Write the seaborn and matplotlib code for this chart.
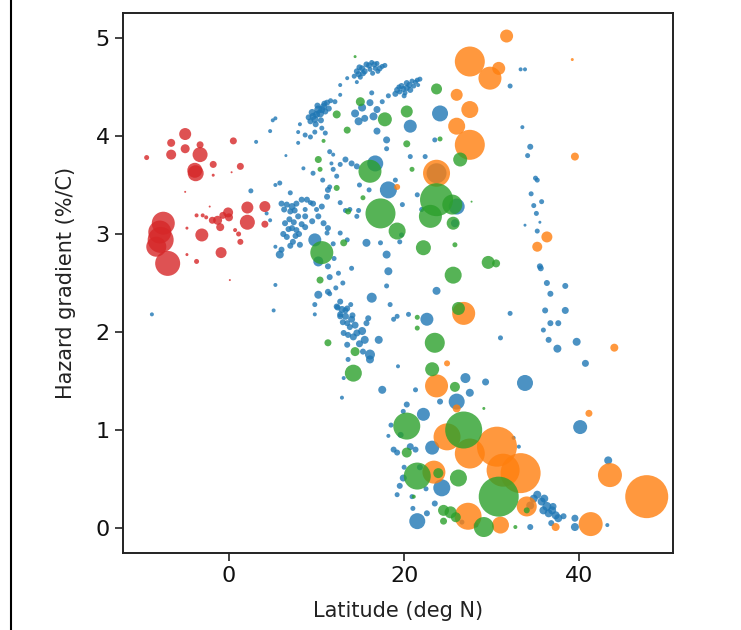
import numpy as np
import pandas as pd
import matplotlib
matplotlib.use("Agg")
import matplotlib.pyplot as plt
from matplotlib.lines import Line2D
import seaborn as sns

# ---------------- data (latitude, hazard gradient, bubble area) ----------------
blue_lat_a = [14.6, 15.2, 15.7, 16.3, 16.9, 17.5, 15.3, 16.1, 16.7, 14.8, 12.7, 13.5,
              19.2, 19.7, 20.3, 20.9, 21.5, 19.5, 20.3, 21.1, 21.6, 20.1, 16.3, 18.2, 17.5,
              9.6, 10.2, 10.8, 11.2, 10.4, 9.8, 11.0, 9.3, 8.7, 9.3, 9.8, 10.6, 11.0, 7.9,
              14.6, 12.7, 12.1,
              14.4, 15.2, 14.8, 16.1, 16.9, 16.5, 15.5, 20.7, 24.1, 18.0, 16.9, 18.0, 20.7,
              22.4, 23.5,
              13.3, 14.0, 14.6, 12.7, 11.9, 11.5, 11.9, 11.7, 16.7, 18.2, 23.7, 26.0, 25.8,
              9.6, 10.7, 11.5, 12.3, 9.3, 10.0, 8.7, 12.7, 13.8, 14.6, 15.7, 18.0, 18.2,
              17.3, 19.5, 19.7,
              5.0, 4.7, 3.1, 8.1, 7.9, 6.5, 2.5, 5.3, 5.3,
              6.0, 6.6, 7.2, 7.7, 8.3, 7.0, 7.5, 6.4, 7.2, 7.7, 6.6, 7.3, 8.1, 6.0, 5.8,
              5.3, 5.3, 5.1, 7.0, 5.8, 4.3, 4.7, 8.5, 8.7, 8.7,
              8.9, 9.6, 10.6, 11.2, 11.3, 10.2, 10.8, 9.5, 11.3, 9.8, 10.2, 10.2, 11.3,
              11.5, 11.3, 12.7, 13.3, 12.7, 13.5, 13.1, 13.3, 14.8, 12.7, 13.5, 11.2, 11.5,
              9.8, 9.8, 12.3, 12.9, 13.5, 12.7, 13.3, 14.0, 14.4, 14.6, 15.2, 15.5, 13.6,
              13.5, 15.7, 16.3, 17.1, 15.9, 16.1, 16.1, 13.6, 13.1, 12.9, 18.0, 18.4, 18.8,
              19.2, 17.5, 19.3, 20.5, 21.3, 22.6, 23.7, 27.0, 27.5, 26.0, 24.1, 22.2, 20.3,
              19.9, 18.2, 18.8, 19.2, 20.7, 21.3, 23.2, 19.9, 19.5, 24.3, 20.9, 19.2, 21.5,
              22.6,
              32.1, 31.0, 33.8, 29.3, 40.1, 40.7, 37.5, 36.5, 39.7, 36.7, 37.6, 36.1, 38.4,
              36.3, 38.4, 36.7, 35.9, 43.3,
              35.2, 35.7, 36.3, 36.9, 37.3, 37.6, 35.9, 36.5, 34.4, 39.5, 39.5, 34.4, 43.2,
              32.5, 33.1,
              33.3, 33.8, 32.1, 33.5, 34.4, 34.1, 35.0, 35.2, 34.5, 35.7, 34.8, 35.1, 33.8,
              35.5, 35.2, 35.5, 35.6,
              -8.8, 28.2, 26.6]
blue_grad_a = [4.66, 4.69, 4.73, 4.75, 4.74, 4.71, 4.64, 4.68, 4.69, 4.63, 4.52, 4.59,
               4.47, 4.51, 4.54, 4.56, 4.57, 4.45, 4.49, 4.51, 4.52, 4.44, 4.44, 4.41, 4.35,
               4.20, 4.27, 4.30, 4.34, 4.23, 4.17, 4.25, 4.15, 4.01, 3.99, 4.04, 4.08, 4.03, 3.93,
               4.55, 4.42, 4.35,
               4.23, 4.29, 4.15, 4.34, 4.27, 4.20, 4.18, 4.10, 4.23, 3.96, 4.05, 3.87, 3.79,
               3.79, 3.96,
               3.76, 3.72, 3.69, 3.71, 3.66, 3.84, 3.81, 3.72, 3.72, 3.45, 3.62, 3.28, 3.11,
               3.62, 3.55, 3.48, 3.59, 3.32, 3.25, 3.25, 3.32, 3.25, 3.18, 2.91, 2.79, 2.62,
               2.91, 2.92, 2.99,
               4.16, 4.05, 3.94, 4.12, 4.04, 3.80, 3.44, 3.50, 4.18,
               3.31, 3.30, 3.28, 3.31, 3.35, 3.23, 3.24, 3.11, 3.06, 3.04, 2.97, 2.92, 2.89, 2.84, 2.79,
               2.48, 2.87, 2.22, 3.42, 3.52, 3.21, 3.14, 3.67, 3.07, 3.18,
               3.35, 3.31, 3.28, 3.38, 3.45, 3.18, 3.11, 3.13, 3.06, 2.94, 2.72, 2.38, 2.67,
               2.56, 2.41, 2.31, 2.22, 2.16, 2.09, 1.99, 3.24, 3.24, 3.01, 2.94, 3.01, 2.39,
               2.28, 2.18, 2.26, 2.23, 2.24, 2.18, 2.16, 2.13, 2.07, 1.99, 2.01, 1.92, 1.97,
               1.87, 2.09, 2.35, 1.92, 2.14, 1.77, 1.72, 1.72, 1.53, 1.33, 2.47, 2.28, 2.13,
               2.16, 1.41, 1.65, 2.18, 1.41, 2.13, 2.42, 1.53, 1.38, 1.29, 1.29, 1.16, 1.26,
               1.19, 0.94, 0.80, 0.77, 0.83, 0.80, 0.82, 0.51, 0.43, 0.41, 0.32, 0.34, 0.07,
               0.15,
               2.19, 1.94, 1.48, 1.49, 1.03, 1.68, 1.83, 1.92, 1.90, 2.09, 2.09, 2.22, 2.22,
               2.50, 2.47, 2.39, 2.02, 0.69,
               0.34, 0.27, 0.22, 0.18, 0.13, 0.10, 0.18, 0.15, 0.23, 0.10, 0.01, 0.01, 0.03,
               0.92, 0.83,
               4.68, 4.68, 4.51, 4.09, 3.89, 3.80, 3.57, 3.55, 3.41, 3.33, 3.29, 3.21, 3.09,
               3.12, 3.03, 2.67, 2.65,
               2.18, 0.03, 0.06]
blue_area_a = [36, 36, 36, 25, 25, 25, 36, 25, 25, 36, 16, 16,
               36, 36, 36, 25, 25, 25, 36, 25, 16, 25, 25, 25, 25,
               49, 64, 49, 36, 64, 49, 36, 36, 25, 25, 25, 25, 25, 16,
               16, 16, 25,
               64, 64, 64, 49, 49, 64, 49, 169, 256, 49, 49, 25, 25,
               25, 25,
               36, 36, 36, 25, 25, 25, 16, 16, 256, 289, 400, 256, 64,
               25, 25, 25, 25, 25, 25, 25, 25, 25, 25, 64, 64, 64,
               25, 25, 25,
               16, 16, 16, 16, 16, 9, 25, 16, 16,
               36, 36, 49, 36, 36, 36, 36, 36, 36, 36, 36, 36, 36, 36, 64,
               16, 16, 16, 25, 25, 16, 16, 16, 36, 36,
               36, 36, 36, 36, 36, 36, 36, 36, 36, 169, 100, 64, 36,
               36, 36, 36, 36, 36, 36, 36, 25, 25, 25, 25, 25, 25,
               25, 16, 36, 49, 36, 36, 49, 49, 49, 49, 64, 64, 36,
               36, 36, 100, 64, 36, 100, 64, 25, 16, 16, 25, 25, 25,
               25, 64, 16, 25, 25, 169, 64, 100, 64, 256, 36, 169, 36,
               25, 16, 36, 36, 49, 36, 196, 49, 36, 289, 25, 25, 256,
               36,
               25, 25, 256, 49, 196, 49, 64, 36, 64, 36, 36, 36, 49,
               36, 36, 36, 25, 64,
               64, 64, 81, 64, 64, 64, 64, 64, 64, 49, 64, 36, 16,
               16, 16,
               16, 16, 25, 16, 36, 25, 25, 25, 25, 25, 25, 25, 9,
               9, 25, 36, 36,
               16, 25, 25]

blue_lat_b = [14.9, 15.5, 16.0, 16.6, 17.2, 17.8, 15.0, 16.4, 17.0, 14.3,
              19.0, 19.9, 20.6, 21.3, 21.8, 20.0, 20.7, 19.4,
              9.5, 10.0, 10.6, 10.9, 10.1, 9.9, 10.5, 11.4, 9.1, 11.6,
              6.3, 6.9, 7.4, 7.9, 8.0, 6.8, 7.6, 6.2, 7.0, 8.3,
              13.0, 13.8, 14.2, 14.9, 15.3, 12.4, 13.9, 14.1,
              12.0, 12.5, 13.0, 11.9, 14.0, 12.2,
              14.9, 16.0, 19.0, 21.5, 22.0, 19.8,
              18.5, 19.6, 20.0, 21.8, 22.5, 21.0, 23.5,
              34.8, 36.0, 37.0, 38.2, 36.8]
blue_grad_b = [4.70, 4.66, 4.72, 4.73, 4.69, 4.72, 4.60, 4.64, 4.66, 4.61,
               4.43, 4.48, 4.52, 4.55, 4.58, 4.41, 4.47, 4.50,
               4.24, 4.22, 4.27, 4.33, 4.31, 4.12, 4.16, 4.28, 4.19, 4.36,
               3.25, 3.15, 3.12, 3.18, 3.00, 3.05, 2.98, 3.00, 2.88, 3.10,
               2.10, 2.05, 1.95, 1.88, 1.80, 2.25, 2.28, 2.17,
               2.75, 2.60, 2.50, 2.90, 2.65, 2.45,
               3.50, 3.45, 3.55, 3.40, 3.25, 3.30,
               1.05, 0.95, 0.62, 0.62, 0.40, 0.20, 0.25,
               0.30, 0.30, 0.22, 0.12, 0.05]
blue_area_b = [36, 36, 36, 36, 36, 25, 25, 25, 25, 25,
               36, 36, 36, 25, 25, 25, 36, 25,
               49, 49, 49, 36, 36, 36, 36, 36, 36, 25,
               36, 36, 36, 36, 36, 36, 36, 36, 36, 36,
               36, 36, 49, 49, 36, 36, 25, 36,
               25, 25, 25, 25, 25, 25,
               25, 25, 25, 25, 25, 25,
               25, 36, 25, 36, 25, 25, 36,
               64, 64, 49, 36, 36]

orange_lat = [31.7, 27.5, 29.8, 30.8, 26.0, 27.5, 26.0, 27.5, 23.7, 19.2, 39.2, 39.5,
              36.3, 35.2, 26.8, 44.0, 41.1, 43.5, 47.7, 41.3, 37.3, 24.9, 23.7, 26.0,
              24.9, 27.5, 30.6, 33.3, 31.3, 23.4, 27.3, 31.0, 34.0]
orange_grad = [5.02, 4.76, 4.59, 4.69, 4.42, 4.27, 4.10, 3.91, 3.62, 3.48, 4.78, 3.79,
               2.97, 2.87, 2.19, 1.84, 1.17, 0.54, 0.32, 0.04, 0.01, 1.68, 1.45, 1.22,
               0.93, 0.76, 0.83, 0.56, 0.59, 0.57, 0.12, 0.03, 0.22]
orange_area = [169, 900, 529, 169, 144, 289, 289, 900, 729, 36, 9, 64,
               121, 100, 529, 64, 49, 576, 1849, 576, 64, 36, 529, 64,
               729, 900, 1600, 1600, 1089, 529, 729, 289, 400]

green_lat = [14.4, 23.7, 20.3, 15.0, 17.8, 12.3, 13.5, 20.3, 24.1, 26.4, 10.2, 10.4,
             10.8, 16.1, 17.3, 19.2, 23.7, 23.0, 25.5, 25.6, 20.9, 12.3, 15.3, 13.6,
             13.1, 10.6, 10.4, 22.2, 25.8, 25.6, 27.7, 26.2, 21.5, 21.5, 11.3, 14.4,
             14.2, 23.5, 23.2, 25.8, 20.3, 26.8, 20.3, 21.5, 23.9, 26.2, 21.1, 24.5,
             25.3, 25.9, 24.5, 30.8, 29.1, 34.0, 32.7, 29.6, 30.5, 29.1]
green_grad = [4.81, 4.48, 4.25, 4.35, 4.17, 4.22, 4.06, 3.92, 3.97, 3.76, 3.76, 3.66,
              3.95, 3.64, 3.21, 3.03, 3.35, 3.18, 3.30, 3.11, 3.66, 3.47, 3.37, 3.23,
              2.91, 2.81, 2.53, 2.86, 2.89, 2.58, 3.33, 2.24, 2.15, 2.04, 1.89, 1.80,
              1.58, 1.89, 1.62, 1.44, 1.04, 1.00, 0.77, 0.53, 0.56, 0.51, 0.32, 0.18,
              0.16, 0.11, 0.07, 0.32, 0.01, 0.18, 0.01, 2.71, 2.70, 1.22]
green_area = [9, 121, 144, 81, 196, 64, 49, 49, 25, 196, 49, 25,
              16, 529, 900, 289, 1089, 529, 400, 169, 25, 36, 25, 36,
              49, 529, 49, 225, 25, 289, 4, 169, 25, 25, 49, 81,
              289, 400, 196, 100, 729, 1369, 100, 729, 100, 289, 16, 121,
              144, 100, 49, 1600, 400, 36, 16, 169, 64, 9]

red_lat = [-9.4, -6.6, -5.0, -6.6, -5.0, -3.3, -3.3, -3.9, -3.8, -1.8, 0.5, 1.3, -1.8,
           0.3, -7.5, -7.8, -7.9, -7.0, -8.3, -3.1, -0.9, -3.7, -4.8, -4.8, -3.7, -3.0,
           -2.6, -1.9, -1.3, -1.0, -0.1, -0.7, 0.0, 2.1, 2.1, 4.1, 4.1, 1.1, 1.3, 0.7,
           -2.2, 0.1, -5.0]
red_grad = [3.78, 3.93, 4.02, 3.81, 3.87, 3.91, 3.81, 3.65, 3.62, 3.71, 3.95, 3.69, 3.60,
            3.63, 3.11, 2.94, 3.02, 2.70, 2.87, 2.99, 2.81, 2.72, 2.79, 3.06, 3.19, 3.19,
            3.17, 3.14, 3.14, 3.07, 3.22, 3.19, 3.17, 3.27, 3.12, 3.28, 3.10, 3.00, 2.92,
            3.04, 3.28, 2.53, 3.43]
red_area = [25, 64, 144, 100, 81, 49, 225, 225, 256, 49, 49, 49, 9,
            4, 529, 676, 529, 625, 400, 169, 121, 25, 9, 9, 16, 16,
            16, 49, 81, 64, 100, 49, 64, 144, 225, 121, 49, 25, 36, 16,
            4, 4, 4]

groups = ["blue", "orange", "green", "red"]
colors = {"blue": "#1f77b4", "orange": "#ff7f0e", "green": "#2ca02c", "red": "#d62728"}

df = pd.concat([
    pd.DataFrame({"lat": blue_lat_a + blue_lat_b, "grad": blue_grad_a + blue_grad_b,
                  "area": blue_area_a + blue_area_b, "group": "blue"}),
    pd.DataFrame({"lat": orange_lat, "grad": orange_grad, "area": orange_area, "group": "orange"}),
    pd.DataFrame({"lat": green_lat, "grad": green_grad, "area": green_area, "group": "green"}),
    pd.DataFrame({"lat": red_lat, "grad": red_grad, "area": red_area, "group": "red"}),
], ignore_index=True)

# ---------------- plot ----------------
sns.set_theme(style="ticks")
plt.rcParams["font.family"] = ["DejaVu Sans"]

DPI = 100
fig = plt.figure(figsize=(7.41, 6.30), dpi=DPI)
ax = fig.add_axes([123 / 741, 1 - 553 / 630, 550 / 741, 540 / 630])

px2pt = 72.0 / DPI
sns.scatterplot(data=df, x="lat", y="grad", hue="group", palette=colors,
                hue_order=groups, size="area", size_norm=(0, 2000),
                sizes=(0, 2000 * px2pt ** 2), alpha=0.8, linewidth=0,
                legend=False, ax=ax)

ax.set_xlim(-12.1, 50.7)
ax.set_ylim(-0.255, 5.255)
ax.set_xticks([0, 20, 40])
ax.set_yticks([0, 1, 2, 3, 4, 5])
ax.tick_params(labelsize=16, length=6, width=1.2, color="#222222", labelcolor="#111111")
for s in ax.spines.values():
    s.set_linewidth(1.4)
    s.set_color("#222222")
ax.set_xlabel("Latitude (deg N)", fontsize=15, color="#222222", labelpad=11)
ax.set_ylabel("Hazard gradient (%/C)", fontsize=15, color="#222222", labelpad=14)

fig.add_artist(Line2D([10.5 / 741, 10.5 / 741], [0, 1], transform=fig.transFigure,
                      color="black", linewidth=1.5))

fig.savefig("out.png", dpi=DPI)
